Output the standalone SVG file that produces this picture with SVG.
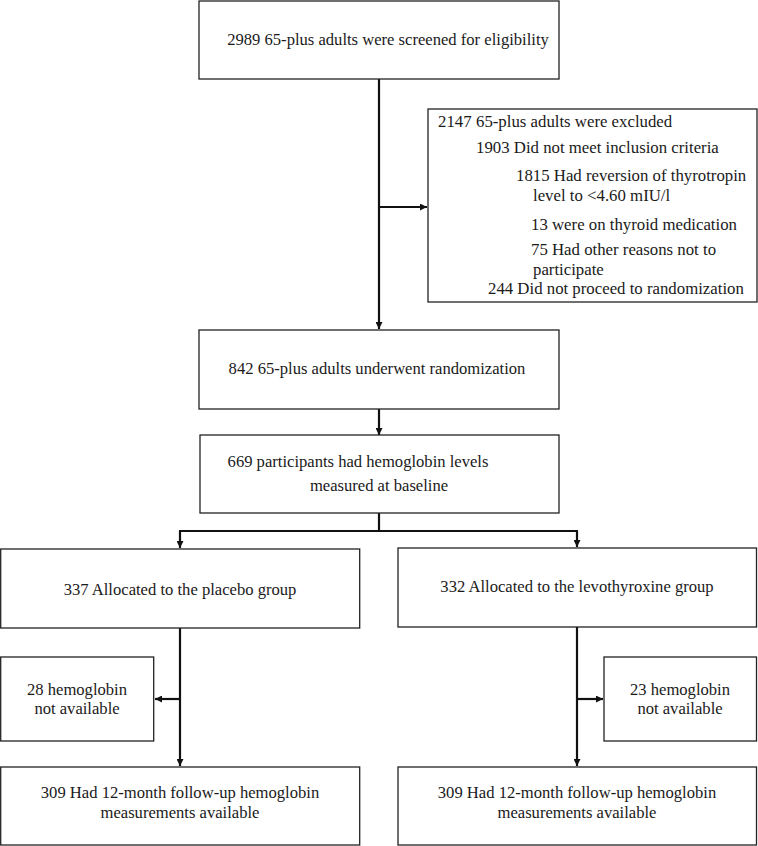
<svg xmlns="http://www.w3.org/2000/svg" width="758" height="846" viewBox="0 0 758 846">
<style>
rect.box{fill:#fff;stroke:#222;stroke-width:1.3}
text{font-family:"Liberation Serif","Times New Roman",serif;font-size:16.6px;fill:#1a1a1a}
#excluded text{font-size:16.8px}
.c{text-anchor:middle}
.conn line{stroke:#111;stroke-width:2.2;fill:none}
</style>
<defs>
<marker id="ah" viewBox="0 0 10 10" refX="10" refY="5" markerWidth="8" markerHeight="7" markerUnits="userSpaceOnUse" orient="auto">
<path d="M0,0 L10,5 L0,10 z" fill="#111"/>
</marker>
</defs>
<rect width="758" height="846" fill="#fff"/>
<g class="conn">
<line x1="379" y1="79" x2="379" y2="329" marker-end="url(#ah)"/>
<line x1="379" y1="207" x2="427" y2="207" marker-end="url(#ah)"/>
<line x1="379" y1="409" x2="379" y2="435" marker-end="url(#ah)"/>
<line x1="379" y1="513" x2="379" y2="531"/>
<line x1="179" y1="531" x2="578" y2="531"/>
<line x1="180" y1="531" x2="180" y2="548" marker-end="url(#ah)"/>
<line x1="577" y1="531" x2="577" y2="547" marker-end="url(#ah)"/>
<line x1="180" y1="628" x2="180" y2="766" marker-end="url(#ah)"/>
<line x1="180" y1="699" x2="155" y2="699" marker-end="url(#ah)"/>
<line x1="577" y1="624" x2="577" y2="766" marker-end="url(#ah)"/>
<line x1="577" y1="699" x2="603" y2="699" marker-end="url(#ah)"/>
</g>
<g id="screened">
<rect class="box" x="199" y="1" width="360" height="78"/>
<text x="388" y="45" class="c">2989 65-plus adults were screened for eligibility</text>
</g>
<g id="excluded">
<rect class="box" x="428" y="109" width="329" height="193"/>
<text x="438" y="127">2147</text>
<text x="476" y="127">65-plus adults were excluded</text>
<text x="476" y="153">1903 Did not meet inclusion criteria</text>
<text x="516" y="181">1815 Had reversion of thyrotropin</text>
<text x="533" y="201">level to &lt;4.60 mIU/l</text>
<text x="531" y="230">13 were on thyroid medication</text>
<text x="531" y="255">75 Had other reasons not to</text>
<text x="533" y="275">participate</text>
<text x="488" y="294">244 Did not proceed to randomization</text>
</g>
<g id="randomized">
<rect class="box" x="199" y="330" width="360" height="79"/>
<text x="377" y="374" class="c">842 65-plus adults underwent randomization</text>
</g>
<g id="baseline">
<rect class="box" x="200" y="435" width="359" height="78"/>
<text x="358" y="467" class="c">669 participants had hemoglobin levels</text>
<text x="379" y="491" class="c">measured at baseline</text>
</g>
<g id="placebo">
<rect class="box" x="0.7" y="549" width="359" height="79"/>
<text x="180" y="595" class="c">337 Allocated to the placebo group</text>
</g>
<g id="levo">
<rect class="box" x="398" y="548" width="358.5" height="79"/>
<text x="577" y="592" class="c">332 Allocated to the levothyroxine group</text>
</g>
<g id="placebo-missing">
<rect class="box" x="0.7" y="657" width="153" height="84"/>
<text x="77" y="695" class="c">28 hemoglobin</text>
<text x="77" y="714" class="c">not available</text>
</g>
<g id="levo-missing">
<rect class="box" x="604" y="657" width="152.5" height="84"/>
<text x="680" y="695" class="c">23 hemoglobin</text>
<text x="680" y="714" class="c">not available</text>
</g>
<g id="placebo-followup">
<rect class="box" x="0.7" y="767" width="359" height="78"/>
<text x="180" y="798" class="c">309 Had 12-month follow-up hemoglobin</text>
<text x="180" y="818" class="c">measurements available</text>
</g>
<g id="levo-followup">
<rect class="box" x="398" y="767" width="358.5" height="78"/>
<text x="577" y="798" class="c">309 Had 12-month follow-up hemoglobin</text>
<text x="577" y="818" class="c">measurements available</text>
</g>
</svg>
